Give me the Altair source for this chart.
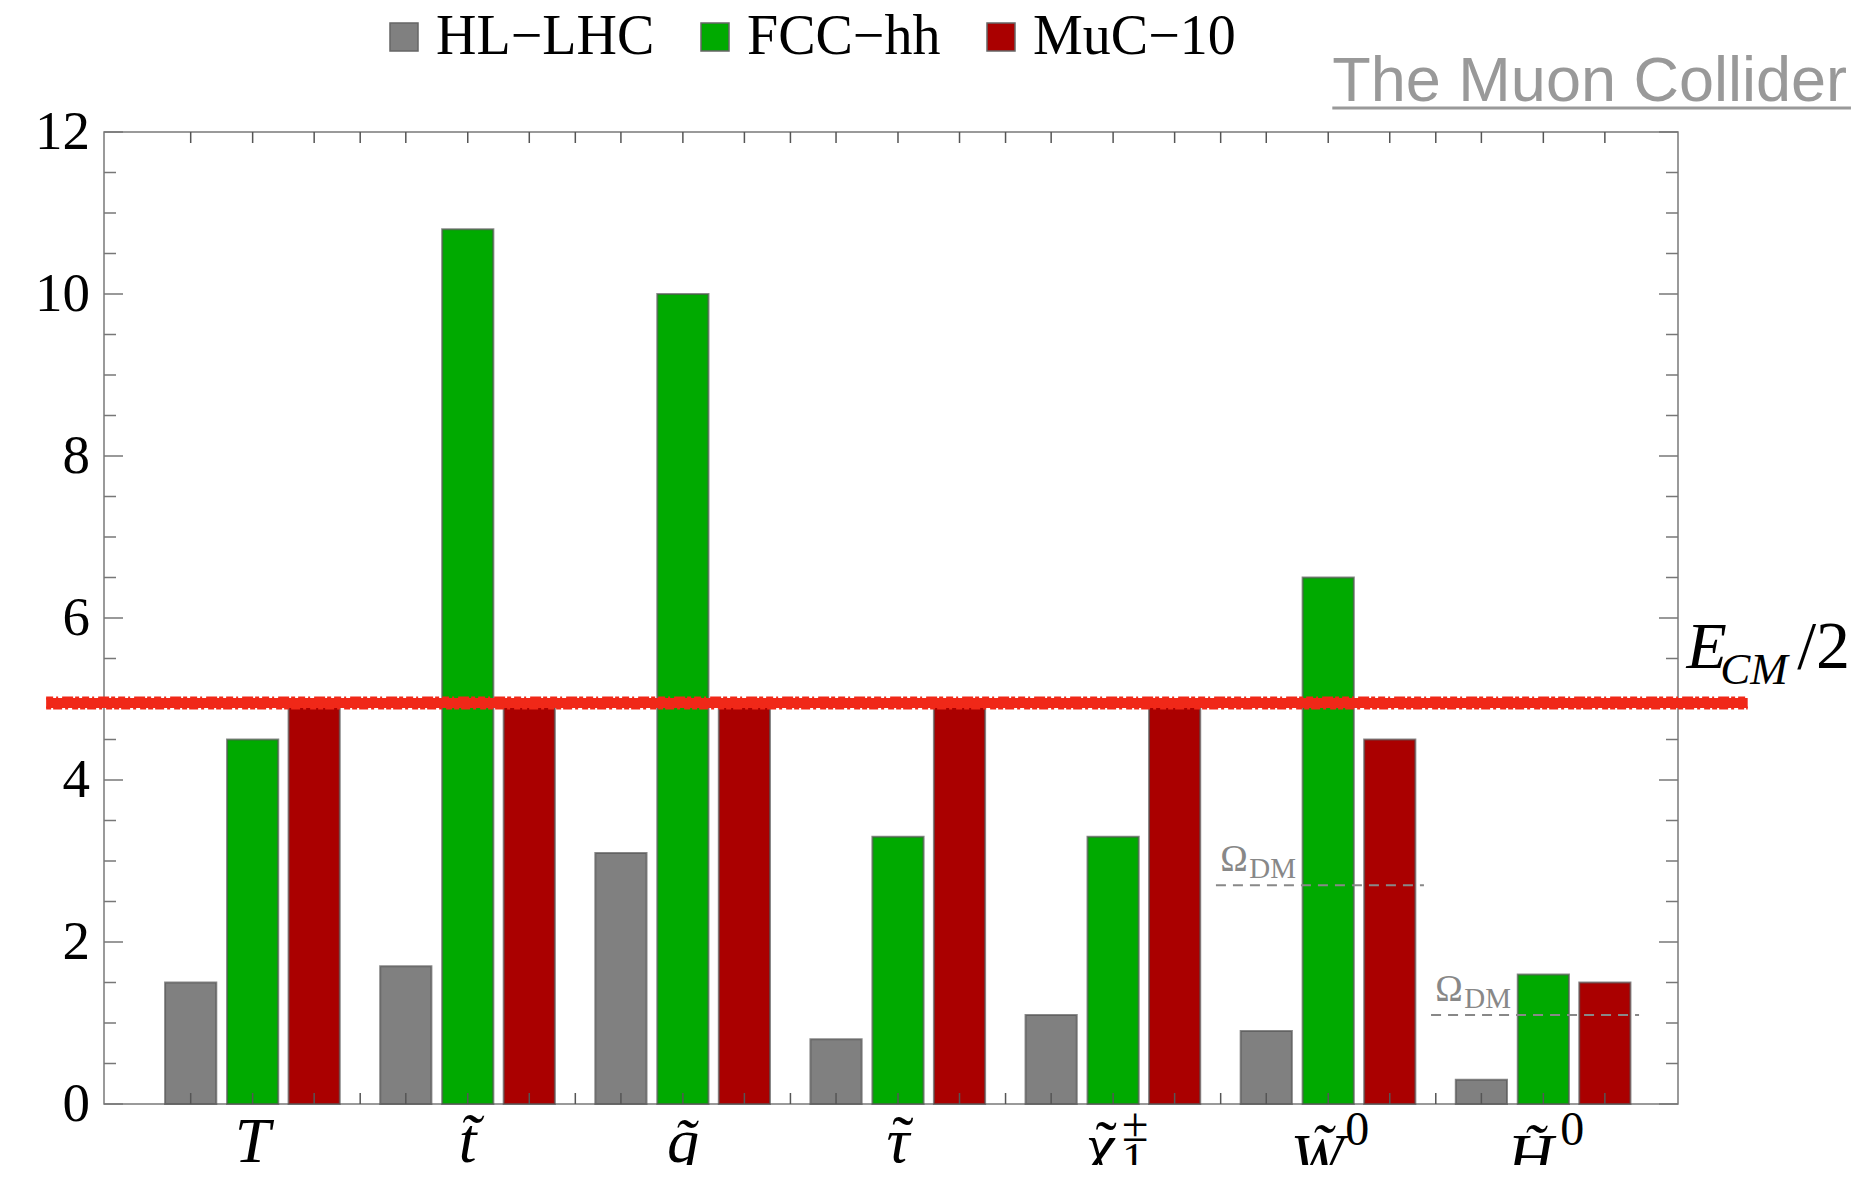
import altair as alt
import pandas as pd

# ---------------- data ----------------
categories = ["T", "t\u0303", "q\u0303", "\u03c4", "\u03c7", "W\u0303", "H\u0303"]
label_tilde = ["", "", "", "\u02dc", "\u02dc", "", ""]   # separate tilde for Greek letters
label_sup = ["", "", "", "", "\u00b1", "0", "0"]
label_sub = ["", "", "", "", "1", "", ""]
series = ["HL-LHC", "FCC-hh", "MuC-10"]
hl_lhc = [1.5, 1.7, 3.1, 0.8, 1.1, 0.9, 0.3]
fcc_hh = [4.5, 10.8, 10.0, 3.3, 3.3, 6.5, 1.6]
muc_10 = [4.95, 4.95, 4.95, 4.95, 4.95, 4.5, 1.5]
e_cm_half = 4.95
omega_dm = [2.7, 1.1]
omega_groups = [5, 6]
y_major = [0, 2, 4, 6, 8, 10, 12]
y_minor = [0.5 * i for i in range(25) if (0.5 * i) % 2 != 0]

# ---------------- layout / style ----------------
W, H = 1574, 972
X_DOMAIN = [-0.691, 6.626]
Y_DOMAIN = [0, 12]
BAR_OFFSETS = [-0.288, 0.0, 0.286]
BAR_WIDTH = 0.238
COLORS = ["#808080", "#00AA00", "#AA0000"]
SERIF = "Liberation Serif"
SANS = "Liberation Sans"
PX_PER_UNIT = H / (Y_DOMAIN[1] - Y_DOMAIN[0])

xs = alt.Scale(domain=X_DOMAIN, nice=False, zero=False)
ys = alt.Scale(domain=Y_DOMAIN, nice=False, zero=False)

# ---------------- bars ----------------
rows = []
for s_i, (name, vals) in enumerate(zip(series, [hl_lhc, fcc_hh, muc_10])):
    for g, v in enumerate(vals):
        c = g + BAR_OFFSETS[s_i]
        rows.append({"cat": categories[g], "series": name, "value": v,
                     "x0": c - BAR_WIDTH / 2, "x1": c + BAR_WIDTH / 2, "base": 0})
bars_df = pd.DataFrame(rows)

bars = alt.Chart(bars_df).mark_rect(stroke="#555555", strokeWidth=2, strokeOpacity=0.7).encode(
    x=alt.X("x0:Q", scale=xs, axis=None),
    x2="x1:Q",
    y=alt.Y("value:Q", scale=ys, axis=None),
    y2="base:Q",
    color=alt.Color("series:N", scale=alt.Scale(domain=series, range=COLORS),
                    legend=alt.Legend(
                        orient="none", legendX=272, legendY=-123, direction="horizontal",
                        title=None, symbolType="square", symbolSize=784,
                        symbolStrokeColor="#666666", symbolStrokeWidth=1.5,
                        labelFont=SERIF, labelFontSize=56, labelColor="black",
                        labelOffset=4, columnPadding=32, padding=0, labelLimit=0,
                        labelExpr="replace(datum.label, '-', '\u2212')")),
)

# ---------------- y tick labels ----------------
ylab = alt.Chart(pd.DataFrame({"v": y_major})).mark_text(
    font=SERIF, fontSize=55, color="black", align="right", baseline="middle").encode(
    x=alt.value(-14), y=alt.Y("v:Q", scale=ys, axis=None), text="v:Q")

# ---------------- frame ticks ----------------
tick_x = [g + o for g in range(len(categories)) for o in BAR_OFFSETS] + \
         [g + 0.5 for g in range(len(categories) - 1)]
tx_df = pd.DataFrame({"t": tick_x})


def xticks(y0, y1):
    return alt.Chart(tx_df).mark_rule(color="#555555", strokeWidth=1.5).encode(
        x=alt.X("t:Q", scale=xs, axis=None), y=alt.value(y0), y2=alt.value(y1))


def yticks(vals, x0, x1):
    return alt.Chart(pd.DataFrame({"v": vals})).mark_rule(color="#777777", strokeWidth=1.5).encode(
        y=alt.Y("v:Q", scale=ys, axis=None), x=alt.value(x0), x2=alt.value(x1))


ticks = [
    xticks(H, H - 11), xticks(0, 11),
    yticks(y_major, 0, 19), yticks(y_minor, 0, 12),
    yticks(y_major, W, W - 19), yticks(y_minor, W, W - 12),
]

# ---------------- E_CM/2 line ----------------
ecm_df = pd.DataFrame({"x0": [-0.96], "x1": [6.95], "y": [e_cm_half]})


def red_rule(width, offset, dash=None):
    kw = dict(color="#F02818", strokeWidth=width, yOffset=offset)
    if dash:
        kw["strokeDash"] = dash
    return alt.Chart(ecm_df).mark_rule(**kw).encode(
        x=alt.X("x0:Q", scale=xs, axis=None), x2="x1:Q",
        y=alt.Y("y:Q", scale=ys, axis=None))


ecm_line = [
    red_rule(10, 0),
    red_rule(3, -5, [7, 3, 2, 4, 11, 2, 4, 3]),
    red_rule(3, 5, [5, 2, 9, 3, 3, 4, 6, 2]),
]


def ecm_piece(txt, x, y, size, style):
    d = pd.DataFrame({"x": [x], "y": [y], "txt": [txt]})
    return alt.Chart(d).mark_text(font=SERIF, fontSize=size, fontStyle=style, align="left",
                                  baseline="alphabetic", color="black").encode(
        x=alt.X("x:Q", scale=xs, axis=None), y=alt.Y("y:Q", scale=ys, axis=None), text="txt:N")


ecm_text = [
    ecm_piece("E", 6.665, 5.383, 66, "italic"),
    ecm_piece("CM", 6.822, 5.185, 45, "italic"),
    ecm_piece("/2", 7.180, 5.383, 68, "normal"),
]

# ---------------- Omega_DM lines ----------------
om_df = pd.DataFrame({
    "x0": [g - 0.522 for g in omega_groups],
    "x1": [g + 0.445 for g in omega_groups],
    "xl": [g - 0.502 for g in omega_groups],
    "y": omega_dm,
})
om_lines = alt.Chart(om_df).mark_rule(color="#888888", strokeWidth=2, strokeDash=[10, 7]).encode(
    x=alt.X("x0:Q", scale=xs, axis=None), x2="x1:Q", y=alt.Y("y:Q", scale=ys, axis=None))
om_omega = alt.Chart(om_df).mark_text(text="\u03a9", font=SERIF, fontSize=37, color="#888888",
                                      align="left", baseline="alphabetic", dy=-14).encode(
    x=alt.X("xl:Q", scale=xs, axis=None), y=alt.Y("y:Q", scale=ys, axis=None))
om_dm = alt.Chart(om_df).mark_text(text="DM", font=SERIF, fontSize=29, color="#888888",
                                   align="left", baseline="alphabetic", dx=29, dy=-7).encode(
    x=alt.X("xl:Q", scale=xs, axis=None), y=alt.Y("y:Q", scale=ys, axis=None))

# ---------------- category labels ----------------
main_dx = [0, 0, 0, 0, -13, -11, -13]
main_base_px = [58, 58, 58, 58, 63, 74, 74]
tilde_dx = [0, 0, 0, 5, -7, 0, 0]
tilde_base_px = [0, 0, 0, 56, 61, 0, 0]
script_dx = [0, 0, 0, 0, 9, 17, 17]
sup_base_px = [0, 0, 0, 0, 37, 41, 41]
sub_base_px = [0, 0, 0, 0, 71, 0, 0]


def label_piece(g, txt, base_px, dx, size, style, align):
    one = pd.DataFrame({"x": [g], "y": [-base_px / PX_PER_UNIT], "txt": [txt]})
    return alt.Chart(one).mark_text(font=SERIF, fontSize=size, fontStyle=style, color="black",
                                    align=align, baseline="alphabetic", dx=dx).encode(
        x=alt.X("x:Q", scale=xs, axis=None), y=alt.Y("y:Q", scale=ys, axis=None), text="txt:N")


cat_layers = []
for g, c in enumerate(categories):
    cat_layers.append(label_piece(g, c, main_base_px[g], main_dx[g], 64, "italic", "center"))
    if label_tilde[g]:
        cat_layers.append(label_piece(g, label_tilde[g], tilde_base_px[g], tilde_dx[g], 64,
                                      "normal", "center"))
    if label_sup[g]:
        cat_layers.append(label_piece(g, label_sup[g], sup_base_px[g], script_dx[g], 48,
                                      "normal", "left"))
    if label_sub[g]:
        cat_layers.append(label_piece(g, label_sub[g], sub_base_px[g], script_dx[g], 46,
                                      "normal", "left"))

# ---------------- corner title ----------------
ttl_df = pd.DataFrame({"x": [5.019], "x1": [7.430], "y": [12.383], "yu": [12.296],
                       "txt": ["The Muon Collider"]})
ttl = alt.Chart(ttl_df).mark_text(font=SANS, fontSize=63, color="#999999", align="left",
                                  baseline="alphabetic").encode(
    x=alt.X("x:Q", scale=xs, axis=None), y=alt.Y("y:Q", scale=ys, axis=None), text="txt:N")
ttl_u = alt.Chart(ttl_df).mark_rule(color="#999999", strokeWidth=3).encode(
    x=alt.X("x:Q", scale=xs, axis=None), x2="x1:Q", y=alt.Y("yu:Q", scale=ys, axis=None))

chart = alt.layer(
    bars, ylab, *ticks, om_lines, om_omega, om_dm, *ecm_line, *ecm_text, *cat_layers, ttl, ttl_u
).properties(
    width=W, height=H,
    autosize=alt.AutoSizeParams(type="none"),
    padding={"left": 96, "top": 124, "right": 175, "bottom": 61},
).configure_view(stroke="#7a7a7a", strokeWidth=1.5)

chart.save("out.html", embed_options={"renderer": "svg", "actions": False})
